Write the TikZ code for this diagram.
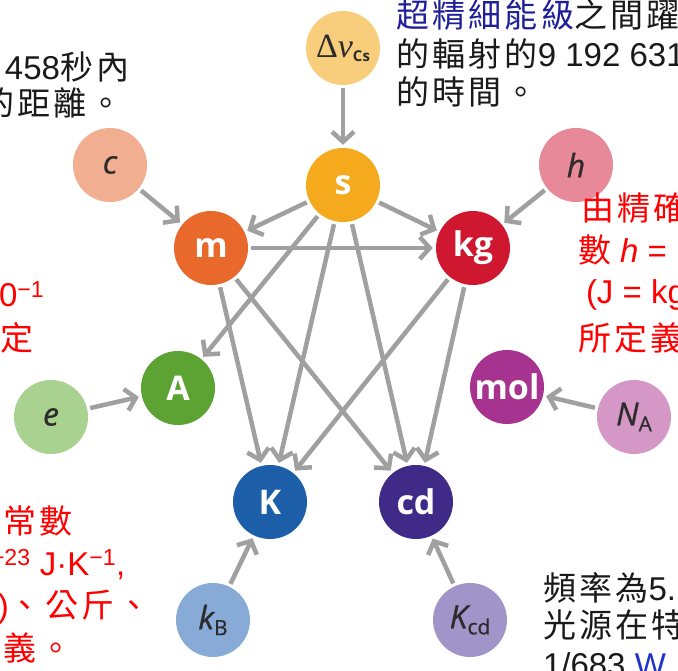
\documentclass[tikz,border=0pt]{standalone}
\usepackage{fontspec}
\setmainfont{Liberation Sans}
\newfontfamily\cjk[LetterSpace=10]{Noto Sans CJK TC}
\newfontfamily\labfam{Open Sans}
\newfontfamily\constfam[FakeBold=0.7]{Open Sans}
\newfontfamily\nufam{Liberation Serif}
\usetikzlibrary{arrows.meta}
\definecolor{arrowgray}{HTML}{A0A0A0}
\definecolor{labgray}{HTML}{2B2B2B}
\definecolor{txtblack}{HTML}{1A1A1A}
\definecolor{txtred}{HTML}{FF0000}
\definecolor{txtblue}{HTML}{1F1F99}
\definecolor{wblue}{HTML}{2233CC}
\definecolor{cDnu}{HTML}{F8CD7C}
\definecolor{cS}{HTML}{F5A91C}
\definecolor{cC}{HTML}{F2AE90}
\definecolor{cM}{HTML}{E8692B}
\definecolor{cH}{HTML}{E8899A}
\definecolor{cKg}{HTML}{CF1730}
\definecolor{cA}{HTML}{5CA334}
\definecolor{cE}{HTML}{A9D18F}
\definecolor{cMol}{HTML}{A6338F}
\definecolor{cNA}{HTML}{D598C6}
\definecolor{cK}{HTML}{1D5EA8}
\definecolor{cKB}{HTML}{87AAD6}
\definecolor{cCd}{HTML}{3F2A87}
\definecolor{cKcd}{HTML}{A194C8}
\newcommand\unitfont{\labfam\bfseries\fontsize{34}{34}\selectfont}
\newcommand\constfont{\constfam\itshape\fontsize{32}{32}\selectfont}
\newcommand\subfont{\constfam\upshape\fontsize{21}{21}\selectfont}
\newcommand\txtfont{\fontsize{33}{33}\selectfont}
\begin{document}
\begin{tikzpicture}[x=1pt,y=-1pt,
  unit/.style={circle, minimum size=74pt, inner sep=0pt, text=white, font=\unitfont},
  const/.style={circle, minimum size=74pt, inner sep=0pt, text=labgray, font=\constfont},
  link/.style={draw=arrowgray, line width=4.5pt, -{Straight Barb[length=10pt,width=22pt]}, shorten >=3pt, shorten <=3pt},
  txt/.style={anchor=base west, inner sep=0pt, outer sep=0pt, font=\txtfont}
]
\clip (0,0) rectangle (678,671);
\fill[white] (0,0) rectangle (678,671);
% nodes
\node[const, fill=cDnu] (dnu) at (343,48) {{\nufam\upshape\fontsize{34}{34}\selectfont Δ\textit{ν}}\raisebox{-4pt}{\labfam\upshape\bfseries\fontsize{15}{15}\selectfont Cs}};
\node[unit, fill=cS] (s) at (343,185) {s};
\node[const, fill=cC] (c) at (110,165) {c};
\node[const, fill=cH] (h) at (576,165) {h};
\node[unit, fill=cM] (m) at (211,248) {m};
\node[unit, fill=cKg] (kg) at (473,248) {kg};
\node[unit, fill=cA] (A) at (178,388) {A};
\node[const, fill=cE] (e) at (51,417) {e};
\node[unit, fill=cMol] (mol) at (507,387) {mol};
\node[const, fill=cNA] (NA) at (634,417) {N\raisebox{-6pt}{\subfont A}};
\node[unit, fill=cK] (K) at (270,502) {K};
\node[unit, fill=cCd] (cd) at (416,502) {cd};
\node[const, fill=cKB] (kB) at (213,620) {k\raisebox{-6pt}{\subfont B}};
\node[const, fill=cKcd] (Kcd) at (470,620) {K\raisebox{-6pt}{\subfont cd}};
% connectors
\draw[link] (dnu) -- (s);
\draw[link] (c) -- (m);
\draw[link] (h) -- (kg);
\draw[link] (s) -- (m);
\draw[link] (s) -- (kg);
\draw[link] (m) -- (kg);
\draw[link] (s) -- (A);
\draw[link] (s) -- (K);
\draw[link] (s) -- (cd);
\draw[link] (m) -- (K);
\draw[link] (m) -- (cd);
\draw[link] (kg) -- (K);
\draw[link] (kg) -- (cd);
\draw[link] (e) -- (A);
\draw[link] (NA) -- (mol);
\draw[link] (kB) -- (K);
\draw[link] (Kcd) -- (cd);
% texts top left
\node[txt, text=txtblack] (tl1) at (5,80) {458{\cjk 秒內}};
\node[txt, text=txtblack] (tl2) at (-19,116) {\cjk 的距離。};
% texts top right
\node[txt, text=txtblack] (tr1) at (396,28) {{\cjk\color{txtblue}超精細能級}{\cjk 之間躍}};
\node[txt, text=txtblack] (tr2) at (396,67) {{\cjk 的輻射的}9 192 631};
\node[txt, text=txtblack] (tr3) at (396,105) {\cjk 的時間。};
% red right
\node[txt, text=txtred] (rr1) at (581,221) {\cjk 由精確};
\node[txt, text=txtred] (rr2) at (578,263) {{\cjk 數} \textit{h} =};
\node[txt, text=txtred] (rr3) at (586,304) {(J = kg};
\node[txt, text=txtred] (rr4) at (578,350) {\cjk 所定義};
% red left
\node[txt, text=txtred] (rl1) at (-1,307) {0\textsuperscript{−1}};
\node[txt, text=txtred] (rl2) at (1,350) {\cjk 定};
% red bottom left
\node[txt, text=txtred] (bl1) at (3,533) {\cjk 常數};
\node[txt, text=txtred] (bl2) at (-9,575) {\textsuperscript{−23} J·K\textsuperscript{−1},};
\node[txt, text=txtred] (bl3) at (-2,617) {){\cjk 、公斤、}};
\node[txt, text=txtred] (bl4) at (3,660) {\cjk 義。};
% bottom right
\node[txt, text=txtblack] (br1) at (543,600) {{\cjk 頻率為}5.};
\node[txt, text=txtblack] (br2) at (543,637) {\cjk 光源在特};
\node[txt, text=txtblack] (br3) at (543,676) {1/683 {\color{wblue}W}};
\end{tikzpicture}
\end{document}
